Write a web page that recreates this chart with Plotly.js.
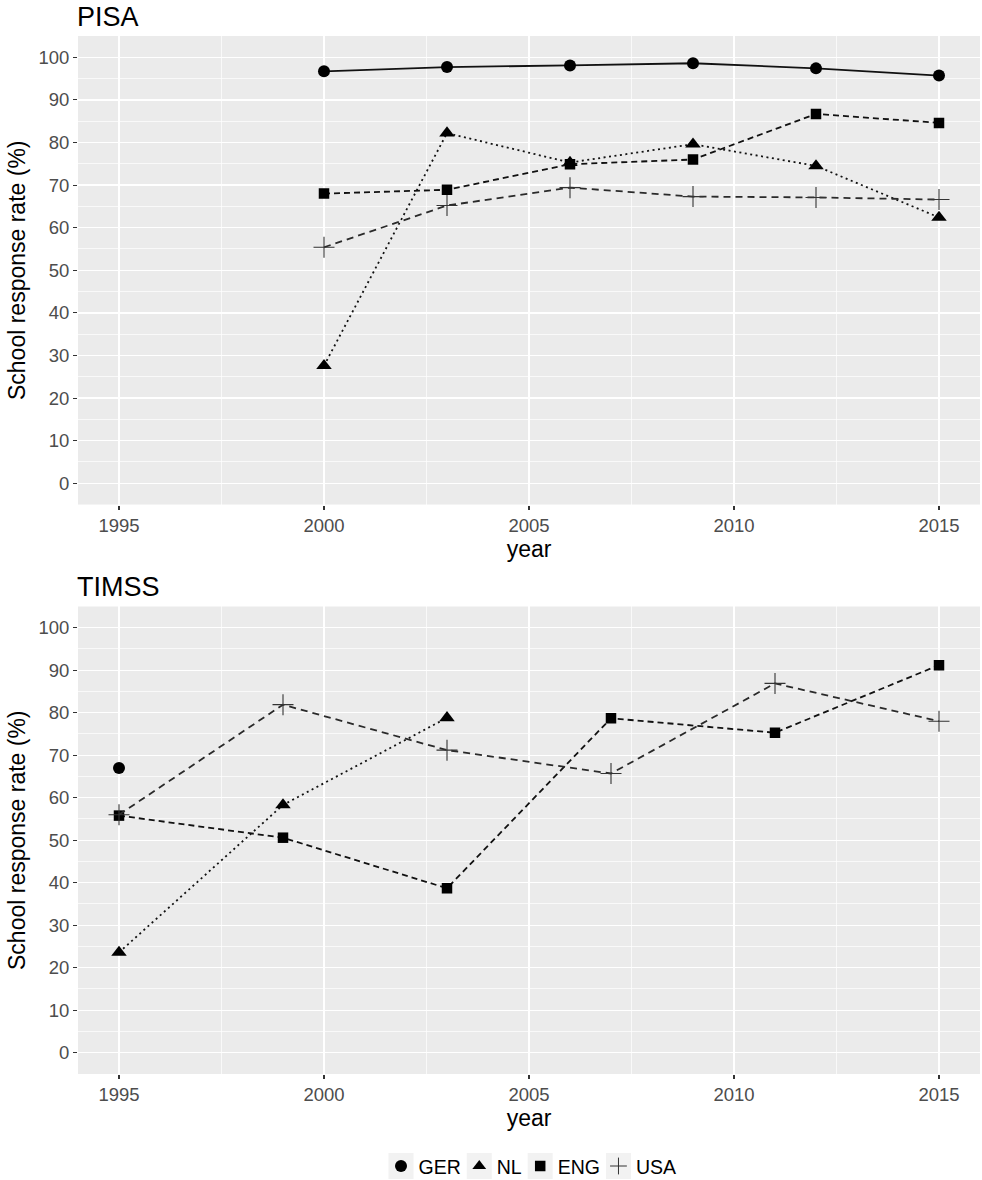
<!DOCTYPE html>
<html>
<head>
<meta charset="utf-8">
<script src="https://cdn.plot.ly/plotly-3.0.1.min.js"></script>
<style>html,body{margin:0;padding:0;background:#fff}#chart{width:982px;height:1180px}</style>
</head>
<body>
<div id="chart"></div>
<script>
// ---- data ----
const countries = ["GER", "NL", "ENG", "USA"];
const pisaYears = [2000, 2003, 2006, 2009, 2012, 2015];
const pisaGER = [96.7, 97.7, 98.1, 98.6, 97.4, 95.7];
const pisaNL  = [27.6, 82.2, 75.3, 79.6, 74.5, 62.4];
const pisaENG = [68.0, 68.9, 74.9, 76.0, 86.7, 84.6];
const pisaUSA = [55.4, 65.2, 69.4, 67.3, 67.1, 66.6];

const timssGERYears = [1995];
const timssGER = [67.0];
const timssNLYears = [1995, 1999, 2003];
const timssNL = [23.6, 58.3, 78.8];
const timssENGYears = [1995, 1999, 2003, 2007, 2011, 2015];
const timssENG = [55.8, 50.6, 38.7, 78.7, 75.3, 91.2];
const timssUSAYears = [1995, 1999, 2003, 2007, 2011, 2015];
const timssUSA = [56.0, 81.9, 71.2, 65.7, 86.9, 78.0];

const panelTitles = ["PISA", "TIMSS"];
const xTicks = [1995, 2000, 2005, 2010, 2015];
const xMinor = [1997.5, 2002.5, 2007.5, 2012.5];
const yTicks = [0, 10, 20, 30, 40, 50, 60, 70, 80, 90, 100];
const yMinor = [5, 15, 25, 35, 45, 55, 65, 75, 85, 95];

// ---- styles ----
const style = {
  GER: {symbol: "circle", size: 12, dash: "solid", color: "#000", lc: "#111"},
  NL:  {symbol: "triangle-up", size: 13.5, dash: "2px,3.5px", color: "#000", lc: "#111"},
  ENG: {symbol: "square", size: 10.5, dash: "6px,4px", color: "#000", lc: "#111"},
  USA: {symbol: "cross-thin-open", size: 15, dash: "7px,5px", color: "#333", lc: "#2a2a2a"}
};

function tr(name, x, y, xa, ya) {
  const s = style[name];
  const marker = {symbol: s.symbol, size: s.size, color: s.color};
  if (name === "USA") marker.line = {color: "#333", width: 1.1};
  return {
    x: x, y: y, xaxis: xa, yaxis: ya, name: name, type: "scatter",
    mode: "lines+markers", showlegend: false,
    line: {color: s.lc, width: 1.8, dash: s.dash},
    marker: marker, hoverinfo: "x+y+name"
  };
}

const traces = [
  tr("GER", pisaYears, pisaGER, "x", "y"),
  tr("NL", pisaYears, pisaNL, "x", "y"),
  tr("ENG", pisaYears, pisaENG, "x", "y"),
  tr("USA", pisaYears, pisaUSA, "x", "y"),
  tr("GER", timssGERYears, timssGER, "x2", "y2"),
  tr("NL", timssNLYears, timssNL, "x2", "y2"),
  tr("ENG", timssENGYears, timssENG, "x2", "y2"),
  tr("USA", timssUSAYears, timssUSA, "x2", "y2")
];
// legend-only entries (shapes only, like ggplot keys)
countries.forEach(c => {
  const s = style[c];
  const marker = {symbol: s.symbol, size: Math.min(s.size, 12), color: s.color};
  if (c === "USA") marker.line = {color: "#444", width: 1};
  traces.push({x: [null], y: [null], xaxis: "x", yaxis: "y", type: "scatter",
    mode: "markers", name: c, showlegend: true, marker: marker});
});

const font = "Liberation Sans, Arial, sans-serif";
function xaxis(anchor) {
  return {
    anchor: anchor, domain: [0, 1], range: [1994, 2016],
    tickvals: xTicks, ticktext: xTicks.map(String),
    showgrid: true, gridcolor: "#fff", gridwidth: 1.4,
    minor: {tickvals: xMinor, showgrid: true, gridcolor: "#fff", gridwidth: 0.7, ticks: ""},
    zeroline: false, showline: false,
    ticks: "outside", ticklen: 4, tickcolor: "#333", tickwidth: 1.1,
    tickfont: {family: font, size: 18.5, color: "#4d4d4d"},
    title: {text: "year", font: {family: font, size: 23, color: "#000"}, standoff: 1}
  };
}
function yaxis(anchor, domain) {
  return {
    anchor: anchor, domain: domain, range: [-5, 105],
    tickvals: yTicks, ticktext: yTicks.map(String),
    showgrid: true, gridcolor: "#fff", gridwidth: 1.4,
    minor: {tickvals: yMinor, showgrid: true, gridcolor: "#fff", gridwidth: 0.7, ticks: ""},
    zeroline: false, showline: false,
    ticks: "outside", ticklen: 4, tickcolor: "#333", tickwidth: 1.1,
    tickfont: {family: font, size: 18.5, color: "#4d4d4d"},
    title: {text: "School response rate (%)", font: {family: font, size: 23, color: "#000"}, standoff: 6}
  };
}

const layout = {
  width: 982, height: 1180,
  margin: {l: 78, r: 2, t: 36, b: 105},
  paper_bgcolor: "#fff", plot_bgcolor: "#ebebeb",
  font: {family: font},
  xaxis: xaxis("y"),
  yaxis: yaxis("x", [0.5486, 1]),
  xaxis2: xaxis("y2"),
  yaxis2: yaxis("x2", [0, 0.4504]),
  showlegend: true,
  legend: {orientation: "h", x: 0.5, xanchor: "center", y: -0.1, yanchor: "bottom",
    font: {family: font, size: 19.5, color: "#000"}, itemwidth: 30, tracegroupgap: 0,
    bgcolor: "rgba(0,0,0,0)"},
  annotations: [
    {text: panelTitles[0], xref: "x domain", yref: "y domain", x: 0, y: 1, xanchor: "left", yanchor: "bottom",
     showarrow: false, yshift: 2, xshift: -3, font: {family: font, size: 27, color: "#000"}},
    {text: panelTitles[1], xref: "x2 domain", yref: "y2 domain", x: 0, y: 1, xanchor: "left", yanchor: "bottom",
     showarrow: false, yshift: 2, xshift: -3, font: {family: font, size: 27, color: "#000"}}
  ]
};

// target placement of the legend (page pixels), ggplot-like compact keys
const legendLeft = 396, legendCenterY = 1166;

Plotly.newPlot("chart", traces, layout, {displayModeBar: false, staticPlot: true}).then(gd => {
  const NS = "http://www.w3.org/2000/svg";
  const leg = gd.querySelector(".legend");
  if (!leg) return;
  const items = Array.from(leg.querySelectorAll(".traces"));
  const parseT = el => {
    const m = /translate\(\s*([-\d.e]+)[ ,]+([-\d.e]+)\s*\)/.exec(el.getAttribute("transform") || "");
    return m ? [parseFloat(m[1]), parseFloat(m[2])] : [0, 0];
  };
  items.forEach(g => {
    const r = document.createElementNS(NS, "rect");
    r.setAttribute("class", "keybg");
    r.setAttribute("x", 7.5); r.setAttribute("y", -13);
    r.setAttribute("width", 25); r.setAttribute("height", 26);
    r.setAttribute("fill", "#f2f2f2");
    g.insertBefore(r, g.firstChild);
    const t = g.querySelector("text.legendtext");
    if (t) t.setAttribute("x", 37.5);
  });
  if (!items.length) return;
  const first = items[0].querySelector("rect.keybg").getBoundingClientRect();
  const [x0, y0] = parseT(items[0]);
  let cx = x0 + (legendLeft - first.left);
  items.forEach(g => {
    const [, y] = parseT(g);
    g.setAttribute("transform", `translate(${cx - 7.5},${y})`);
    const t = g.querySelector("text.legendtext");
    const w = t ? t.getComputedTextLength() : 0;
    cx += 25 + 5 + w + 6;
  });
  const b = items[0].querySelector("rect.keybg").getBoundingClientRect();
  const dy = legendCenterY - (b.top + b.height / 2);
  const [lx, ly] = parseT(leg);
  leg.setAttribute("transform", `translate(${lx},${ly + dy})`);
});
</script>
</body>
</html>
